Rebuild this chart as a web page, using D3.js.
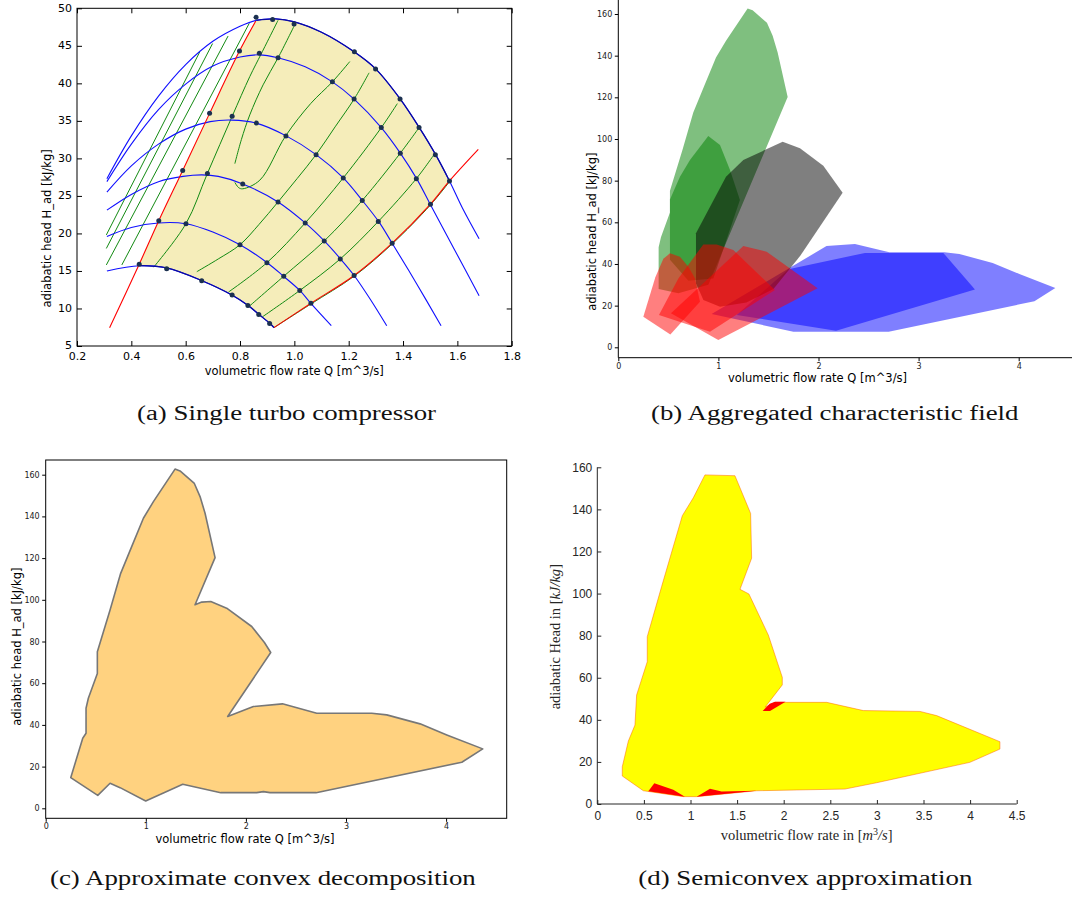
<!DOCTYPE html>
<html><head><meta charset="utf-8">
<script src="https://cdn.jsdelivr.net/npm/d3@7"></script>
<style>body{margin:0;background:#fff}</style>
</head><body>
<svg id="c" width="1072" height="901" xmlns="http://www.w3.org/2000/svg"></svg>
<script>
// ================= Panel (a) data: single turbo compressor =================
const speedLine1 = [[0.31,27.3],[0.40,33.0],[0.50,38.3],[0.60,42.5],[0.70,45.6],[0.80,47.6],[0.86,48.4],[0.93,48.6],[1.00,48.2],[1.10,46.8],[1.22,44.2],[1.30,41.9],[1.39,37.9],[1.46,34.1],[1.52,30.5],[1.571,27.0],[1.62,23.3],[1.68,19.3]];
const speedLine2 = [[0.31,26.9],[0.40,31.9],[0.50,36.5],[0.60,39.9],[0.70,42.3],[0.80,43.5],[0.87,43.8],[0.94,43.4],[1.04,42.2],[1.14,40.2],[1.22,37.9],[1.32,34.1],[1.39,30.7],[1.45,27.3],[1.50,23.9],[1.59,17.8],[1.68,11.7]];
const speedLine3 = [[0.31,25.5],[0.40,29.0],[0.50,31.9],[0.60,33.9],[0.69,34.9],[0.77,35.1],[0.86,34.7],[0.97,33.0],[1.08,30.5],[1.18,27.4],[1.25,24.4],[1.31,21.6],[1.36,18.7],[1.45,13.3],[1.54,7.7]];
const speedLine4 = [[0.31,23.1],[0.40,25.2],[0.50,26.9],[0.59,27.6],[0.66,27.8],[0.72,27.6],[0.81,26.6],[0.94,24.2],[1.04,21.4],[1.11,19.0],[1.17,16.6],[1.22,14.4],[1.28,11.2],[1.34,7.7]];
const speedLine5 = [[0.31,19.6],[0.40,20.8],[0.50,21.4],[0.60,21.3],[0.70,20.2],[0.80,18.5],[0.90,16.1],[0.96,14.3],[1.02,12.4],[1.06,10.7],[1.136,7.7]];
const speedLine6 = [[0.31,15.0],[0.43,15.7],[0.53,15.4],[0.66,13.7],[0.77,11.8],[0.83,10.4],[0.87,9.2],[0.91,8.0],[0.925,7.45]];
const surgeLine = [[0.32,7.44],[0.429,15.9],[0.501,21.7],[0.589,28.4],[0.688,36.0],[0.798,44.3],[0.858,48.3]];
const chokeLine = [[0.925,7.45],[1.061,10.7],[1.220,14.4],[1.360,18.7],[1.501,23.9],[1.571,27.0],[1.677,31.2]];
const effLeft1 = [[0.308,19.8],[0.652,44.2]];
const effLeft2 = [[0.308,18.0],[0.699,45.3]];
const effLeft3 = [[0.308,15.8],[0.756,46.3]];
const effLeft4 = [[0.365,15.8],[0.834,48.0]];
const effB = [[0.482,15.5],[0.601,21.3],[0.680,28.0],[0.771,35.6],[0.836,40.9],[0.879,44.0],[0.940,48.4]];
const effC = [[0.781,29.3],[0.805,32.5],[0.836,35.8],[0.885,39.8],[0.940,43.4],[1.000,47.7]];
const effD = [[0.781,26.8],[0.795,26.1],[0.81,25.95],[0.873,27.1],[0.968,33.0],[1.06,37.3],[1.140,40.2],[1.204,42.9]];
const effE = [[0.641,14.9],[0.72,16.6],[0.800,18.5],[0.87,21.2],[0.940,24.2],[1.010,27.3],[1.080,30.5],[1.150,34.2],[1.220,37.9],[1.275,41.4]];
const effF = [[0.758,12.2],[0.899,16.1],[1.040,21.4],[1.180,27.4],[1.320,34.1],[1.379,37.3]];
const effG = [[0.831,10.2],[0.961,14.3],[1.110,19.0],[1.250,24.4],[1.390,30.7],[1.459,34.1]];
const effH = [[0.883,8.9],[1.020,12.4],[1.169,16.6],[1.309,21.6],[1.449,27.3],[1.516,30.6]];
const effI = [[0.925,7.45],[1.061,10.6],[1.220,14.3],[1.360,18.6],[1.501,23.8],[1.571,26.9]];
const measuredPoints = [
 [0.859,48.8],[0.920,48.5],[0.999,47.9],[1.221,44.2],[1.299,41.9],[1.389,37.9],[1.459,34.1],[1.519,30.5],[1.571,27.0],
 [0.798,44.3],[0.871,44.0],[0.940,43.4],[1.140,40.2],[1.220,37.9],[1.320,34.1],[1.390,30.7],[1.449,27.3],[1.501,23.9],
 [0.688,36.0],[0.771,35.6],[0.860,34.7],[0.969,33.0],[1.080,30.5],[1.180,27.4],[1.250,24.4],[1.309,21.6],[1.360,18.7],
 [0.589,28.4],[0.680,28.0],[0.810,26.6],[0.940,24.2],[1.040,21.4],[1.110,19.0],[1.169,16.6],[1.220,14.4],
 [0.501,21.7],[0.601,21.3],[0.800,18.5],[0.899,16.1],[0.961,14.3],[1.020,12.4],[1.061,10.7],
 [0.429,15.9],[0.530,15.3],[0.659,13.7],[0.771,11.8],[0.829,10.4],[0.869,9.2],[0.909,8.0]];
const xTicksA = [0.2,0.4,0.6,0.8,1.0,1.2,1.4,1.6,1.8];
const yTicksA = [5,10,15,20,25,30,35,40,45,50];

// ================= Panel (b) data: aggregated field =================
const fieldBlueLarge = [[0.932,16.0],[2.08,48.6],[2.364,49.6],[2.708,45.6],[3.257,45.6],[3.407,44.8],[3.740,40.5],[4.007,35.2],[4.366,28.5],[4.157,22.1],[2.701,7.5],[1.749,7.5]];
const fieldBlueSmall = [[1.182,15.5],[1.70,37.5],[2.464,45.3],[3.247,45.3],[3.563,27.8],[2.175,8.0]];
const fieldGreenLarge = [[0.403,28],[0.403,48],[0.426,52.8],[0.516,64.7],[0.516,75.1],[0.643,95.1],[0.749,112.7],[0.859,125.5],[0.976,139.1],[1.076,147.1],[1.292,162.7],[1.342,161.8],[1.485,155.8],[1.542,149.5],[1.592,141.5],[1.692,120.2],[0.90,30],[0.60,26]];
const fieldGreenSmall = [[0.516,42],[0.516,71],[0.616,81.9],[0.716,89.9],[0.899,101.4],[1.016,97.1],[1.116,85.1],[1.215,70.7],[0.95,33],[0.70,32]];
const fieldGray = [[0.776,30.7],[0.776,54.7],[1.076,81.9],[1.249,89.9],[1.642,98.7],[1.815,95.5],[2.048,87.2],[2.241,74.2],[1.818,44.0],[1.55,28.0],[1.28,21.5],[1.016,19.5],[0.85,22.7]];
const fieldRedA = [[0.25,14.7],[0.37,33.6],[0.45,42.5],[0.516,45.1],[0.616,43.5],[0.70,38.7],[0.766,33.1],[0.816,21.9],[0.52,6.2]];
const fieldRedB = [[0.406,15.5],[0.60,33],[0.849,49.4],[0.982,49.4],[1.149,46.7],[1.565,27.5],[0.916,7.5]];
const fieldRedC = [[0.526,16.3],[1.249,48.6],[1.482,45.9],[1.991,28.3],[0.999,3.5]];
const yTicksBC = [0,20,40,60,80,100,120,140,160];
const xTicksBC = [0,1,2,3,4];

// ================= Panel (c) data: approximate convex decomposition =================
const decompositionOutline = [[0.250,14.7],[0.370,33.6],[0.403,36.0],[0.403,48.0],[0.426,52.8],[0.516,64.7],[0.516,75.1],[0.643,95.1],[0.749,112.7],[0.859,125.5],[0.976,139.1],[1.076,147.1],[1.292,162.7],[1.342,161.8],[1.485,155.8],[1.542,149.5],[1.592,141.5],[1.692,120.2],[1.492,97.6],[1.559,98.9],[1.649,99.2],[1.808,96.0],[2.058,87.2],[2.185,79.5],[2.248,74.7],[1.818,44.0],[2.075,48.8],[2.365,50.1],[2.708,45.6],[3.257,45.6],[3.407,44.8],[3.740,40.5],[4.007,35.2],[4.366,28.5],[4.157,22.1],[2.701,7.5],[2.241,7.5],[2.175,8.0],[2.108,7.5],[1.749,7.5],[1.369,11.5],[0.999,3.5],[0.743,9.9],[0.643,12.0],[0.520,6.2]];

// ================= Panel (d) data: semiconvex approximation =================
const semiconvexYellow = [[0.268,13.3],[0.268,17.7],[0.333,29.9],[0.404,37.5],[0.422,51.8],[0.536,67.6],[0.536,79.5],[0.690,103.3],[0.912,137.0],[1.03,145.5],[1.155,156.4],[1.477,156.0],[1.645,138.1],[1.656,116.8],[1.531,102.0],[1.627,99.8],[1.835,80.3],[1.985,60.2],[1.985,56.6],[1.80,46.0],[1.906,48.3],[2.461,48.3],[2.854,44.4],[3.462,44.0],[3.641,42.0],[4.32,29.6],[4.32,26.1],[3.998,19.8],[2.997,10.1],[2.657,7.1],[1.710,6.3],[1.066,3.5],[0.923,3.5],[0.494,6.3]];
const semiconvexRed1 = [[0.547,6.0],[0.612,9.9],[0.815,6.8],[0.94,3.5]];
const semiconvexRed2 = [[1.066,3.5],[1.209,7.2],[1.334,5.9],[1.71,6.3]];
const semiconvexRed3 = [[1.774,44.2],[1.85,47.6],[1.906,48.6],[2.02,48.6],[1.853,44.2]];
const xTicksD = [0,0.5,1,1.5,2,2.5,3,3.5,4,4.5];
const yTicksD = [0,20,40,60,80,100,120,140,160];

const captions = ["(a) Single turbo compressor","(b) Aggregated characteristic field","(c) Approximate convex decomposition","(d) Semiconvex approximation"];

// ======================================================================
const svg = d3.select('#c');
svg.append('rect').attr('width',1072).attr('height',901).attr('fill','#fff');
const SANS = '"DejaVu Sans", sans-serif';

function styleAxis(g, size, color){
  g.attr('font-family', SANS).attr('font-size', size);
  g.selectAll('text').attr('fill', color||'#000');
  g.selectAll('line').attr('stroke', '#000');
  g.select('.domain').remove();
}

// ---------------- Panel (a) ----------------
const xA = d3.scaleLinear().domain([0.2,1.8]).range([77,511.7]);
const yA = d3.scaleLinear().domain([5,50]).range([346,8.3]);
const gA = svg.append('g');
const curveA = d3.line().x(d=>xA(d[0])).y(d=>yA(d[1])).curve(d3.curveCatmullRom.alpha(0.5));
const straightA = d3.line().x(d=>xA(d[0])).y(d=>yA(d[1]));

const segs = [
  surgeLine.filter(d=>d[0]>=0.429),
  speedLine1.filter(d=>d[0]>=0.86 && d[0]<=1.572),
  chokeLine.filter(d=>d[0]<=1.572).slice().reverse(),
  speedLine6.filter(d=>d[0]>=0.43).slice().reverse()
];
const regionD = segs.map((s,i)=>{const p=curveA(s); return i? 'L'+p.slice(1) : p;}).join('')+'Z';
gA.append('path').attr('d',regionD).attr('fill','#f5edba').attr('stroke','none');

[effLeft1,effLeft2,effLeft3,effLeft4].forEach(l=>{
  gA.append('path').attr('d',straightA(l)).attr('fill','none').attr('stroke','#128a12').attr('stroke-width',1);
});
[effB,effC,effD,effE,effF,effG,effH,effI].forEach(l=>{
  gA.append('path').attr('d',curveA(l)).attr('fill','none').attr('stroke','#128a12').attr('stroke-width',1);
});
[speedLine1,speedLine2,speedLine3,speedLine4,speedLine5,speedLine6].forEach(l=>{
  gA.append('path').attr('d',curveA(l)).attr('fill','none').attr('stroke','#1010ff').attr('stroke-width',1.1);
});
gA.append('path').attr('d',curveA(speedLine1.filter(d=>d[0]>=0.86 && d[0]<=1.572))).attr('fill','none').attr('stroke','#0a0aa0').attr('stroke-width',1.2);
gA.append('path').attr('d',curveA(speedLine6.filter(d=>d[0]>=0.43))).attr('fill','none').attr('stroke','#0a0aa0').attr('stroke-width',1.2);
[surgeLine, chokeLine].forEach(l=>{
  gA.append('path').attr('d',curveA(l)).attr('fill','none').attr('stroke','#ff0000').attr('stroke-width',1.1);
});
gA.selectAll('circle.pt').data(measuredPoints).enter().append('circle')
  .attr('cx',d=>xA(d[0])).attr('cy',d=>yA(d[1])).attr('r',2.5).attr('fill','#1b3050');

gA.append('rect').attr('x',77).attr('y',8.3).attr('width',511.7-77).attr('height',346-8.3)
  .attr('fill','none').attr('stroke','#000').attr('stroke-width',1);
gA.append('g').attr('transform','translate(0,346)')
  .call(d3.axisBottom(xA).tickValues(xTicksA).tickSize(-5).tickPadding(6).tickFormat(d3.format('.1f')))
  .call(g=>styleAxis(g,11));
gA.append('g').attr('transform','translate(0,8.3)')
  .call(d3.axisTop(xA).tickValues(xTicksA).tickSize(-5).tickFormat(''))
  .call(g=>styleAxis(g,11));
gA.append('g').attr('transform','translate(77,0)')
  .call(d3.axisLeft(yA).tickValues(yTicksA).tickSize(-5).tickPadding(5))
  .call(g=>styleAxis(g,11))
  .call(g=>g.selectAll('.tick text').attr('dy','0.25em'));
gA.append('g').attr('transform','translate(511.7,0)')
  .call(d3.axisRight(yA).tickValues(yTicksA).tickSize(-5).tickFormat(''))
  .call(g=>styleAxis(g,11));
gA.append('text').attr('x',294.3).attr('y',375).attr('text-anchor','middle')
  .attr('font-family',SANS).attr('font-size',11.5).text('volumetric flow rate Q [m^3/s]');
gA.append('text').attr('transform','translate(50.5,228.3) rotate(-90)').attr('text-anchor','middle')
  .attr('font-family',SANS).attr('font-size',11.5).text('adiabatic head H_ad [kJ/kg]');

// ---------------- Panel (b) ----------------
const xB = d3.scaleLinear().domain([0,4]).range([618.3,1018.7]);
const yB = d3.scaleLinear().domain([0,160]).range([347.3,14]);
const gB = svg.append('g');
const polyB = d3.line().x(d=>xB(d[0])).y(d=>yB(d[1])).curve(d3.curveLinearClosed);
const layersB = [
  [fieldBlueLarge,'#0000ff'],[fieldBlueSmall,'#0000ff'],
  [fieldGreenLarge,'#008000'],[fieldGreenSmall,'#008000'],
  [fieldGray,'#000000'],
  [fieldRedA,'#ff0000'],[fieldRedB,'#ff0000'],[fieldRedC,'#ff0000']
];
layersB.forEach(([p,c])=>{
  gB.append('path').attr('d',polyB(p)).attr('fill',c).attr('fill-opacity',0.5).attr('stroke','none');
});
gB.append('line').attr('x1',618.3).attr('x2',618.3).attr('y1',0).attr('y2',357.7).attr('stroke','#000').attr('stroke-width',1);
gB.append('line').attr('x1',618.3).attr('x2',1072).attr('y1',357.7).attr('y2',357.7).attr('stroke','#000').attr('stroke-width',1);
gB.append('g').attr('transform','translate(618.3,0)')
  .call(d3.axisLeft(yB).tickValues(yTicksBC).tickSize(3.5).tickPadding(2.5).tickFormat(d3.format('d')))
  .call(g=>styleAxis(g,8,'#222'));
gB.append('g').attr('transform','translate(0,357.7)')
  .call(d3.axisBottom(xB).tickValues(xTicksBC).tickSize(3.5).tickPadding(2).tickFormat(d3.format('d')))
  .call(g=>styleAxis(g,8,'#222'));
gB.append('text').attr('x',817.5).attr('y',382).attr('text-anchor','middle')
  .attr('font-family',SANS).attr('font-size',11.5).text('volumetric flow rate Q [m^3/s]');
gB.append('text').attr('transform','translate(596.3,231.7) rotate(-90)').attr('text-anchor','middle')
  .attr('font-family',SANS).attr('font-size',11.5).text('adiabatic head H_ad [kJ/kg]');

// ---------------- Panel (c) ----------------
const xC = d3.scaleLinear().domain([0,4]).range([45.7,446.1]);
const yC = d3.scaleLinear().domain([0,160]).range([808.3,474.7]);
const gC = svg.append('g');
const polyC = d3.line().x(d=>xC(d[0])).y(d=>yC(d[1])).curve(d3.curveLinearClosed);
gC.append('path').attr('d',polyC(decompositionOutline)).attr('fill','#ffd280')
  .attr('stroke','#777777').attr('stroke-width',1.6).attr('stroke-linejoin','round');
gC.append('rect').attr('x',45.7).attr('y',460).attr('width',506.7-45.7).attr('height',818.3-460)
  .attr('fill','none').attr('stroke','#000').attr('stroke-width',1);
gC.append('g').attr('transform','translate(45.7,0)')
  .call(d3.axisLeft(yC).tickValues(yTicksBC).tickSize(3.5).tickPadding(2.5).tickFormat(d3.format('d')))
  .call(g=>styleAxis(g,8,'#222'));
gC.append('g').attr('transform','translate(0,818.3)')
  .call(d3.axisBottom(xC).tickValues(xTicksBC).tickSize(3.5).tickPadding(2).tickFormat(d3.format('d')))
  .call(g=>styleAxis(g,8,'#222'));
gC.append('text').attr('x',245).attr('y',842.5).attr('text-anchor','middle')
  .attr('font-family',SANS).attr('font-size',11.5).text('volumetric flow rate Q [m^3/s]');
gC.append('text').attr('transform','translate(21.3,646.7) rotate(-90)').attr('text-anchor','middle')
  .attr('font-family',SANS).attr('font-size',11.5).text('adiabatic head H_ad [kJ/kg]');

// ---------------- Panel (d) ----------------
const xD = d3.scaleLinear().domain([0,4.5]).range([597.3,1016.7]);
const yD = d3.scaleLinear().domain([0,160]).range([804,467.3]);
const gD = svg.append('g');
const polyD = d3.line().x(d=>xD(d[0])).y(d=>yD(d[1])).curve(d3.curveLinearClosed);
gD.append('path').attr('d',polyD(semiconvexYellow)).attr('fill','#ffff00')
  .attr('stroke','#ff5a00').attr('stroke-width',0.6).attr('stroke-opacity',0.8);
[semiconvexRed1,semiconvexRed2,semiconvexRed3].forEach(p=>{
  gD.append('path').attr('d',polyD(p)).attr('fill','#ff0000').attr('stroke','none');
});
gD.append('line').attr('x1',597.3).attr('x2',597.3).attr('y1',467.3).attr('y2',804).attr('stroke','#262626').attr('stroke-width',1);
gD.append('line').attr('x1',597.3).attr('x2',1016.7).attr('y1',804).attr('y2',804).attr('stroke','#262626').attr('stroke-width',1);
const LSANS = '"Liberation Sans", Arial, sans-serif';
gD.append('g').attr('transform','translate(597.3,0)')
  .call(d3.axisLeft(yD).tickValues(yTicksD).tickSize(-4).tickPadding(5))
  .call(g=>{styleAxis(g,12,'#262626'); g.attr('font-family',LSANS); g.selectAll('line').attr('stroke','#262626');});
gD.append('g').attr('transform','translate(0,804)')
  .call(d3.axisBottom(xD).tickValues(xTicksD).tickSize(-4).tickPadding(7).tickFormat(d=>String(d)))
  .call(g=>{styleAxis(g,12,'#262626'); g.attr('font-family',LSANS); g.selectAll('line').attr('stroke','#262626');});
const SERIF = '"Liberation Serif", "DejaVu Serif", serif';
const xl = gD.append('text').attr('x',806.7).attr('y',840).attr('text-anchor','middle')
  .attr('font-family',SERIF).attr('font-size',14.5).attr('fill','#262626');
xl.append('tspan').text('volumetric flow rate in [');
xl.append('tspan').attr('font-style','italic').text('m');
xl.append('tspan').attr('font-size',10).attr('dy',-5).text('3');
xl.append('tspan').attr('font-style','italic').attr('dy',5).text('/s');
xl.append('tspan').text(']');
const yl = gD.append('text').attr('transform','translate(559.5,636.7) rotate(-90)').attr('text-anchor','middle')
  .attr('font-family',SERIF).attr('font-size',14.5).attr('fill','#262626');
yl.append('tspan').text('adiabatic Head in [');
yl.append('tspan').attr('font-style','italic').text('kJ/kg');
yl.append('tspan').text(']');

// ---------------- Captions ----------------
const capPos = [[137,420],[651,420],[50,885],[638.3,885]];
const capEls = captions.map((t,i)=> svg.append('text').attr('x',capPos[i][0]).attr('y',capPos[i][1])
  .attr('font-family',SERIF).attr('font-size',20.5).attr('fill','#111').text(t));
const k = 299 / capEls[0].node().getComputedTextLength();
capEls.forEach(el=>{
  const w = el.node().getComputedTextLength()*k;
  el.attr('textLength',w).attr('lengthAdjust','spacingAndGlyphs');
});
</script>
</body></html>
